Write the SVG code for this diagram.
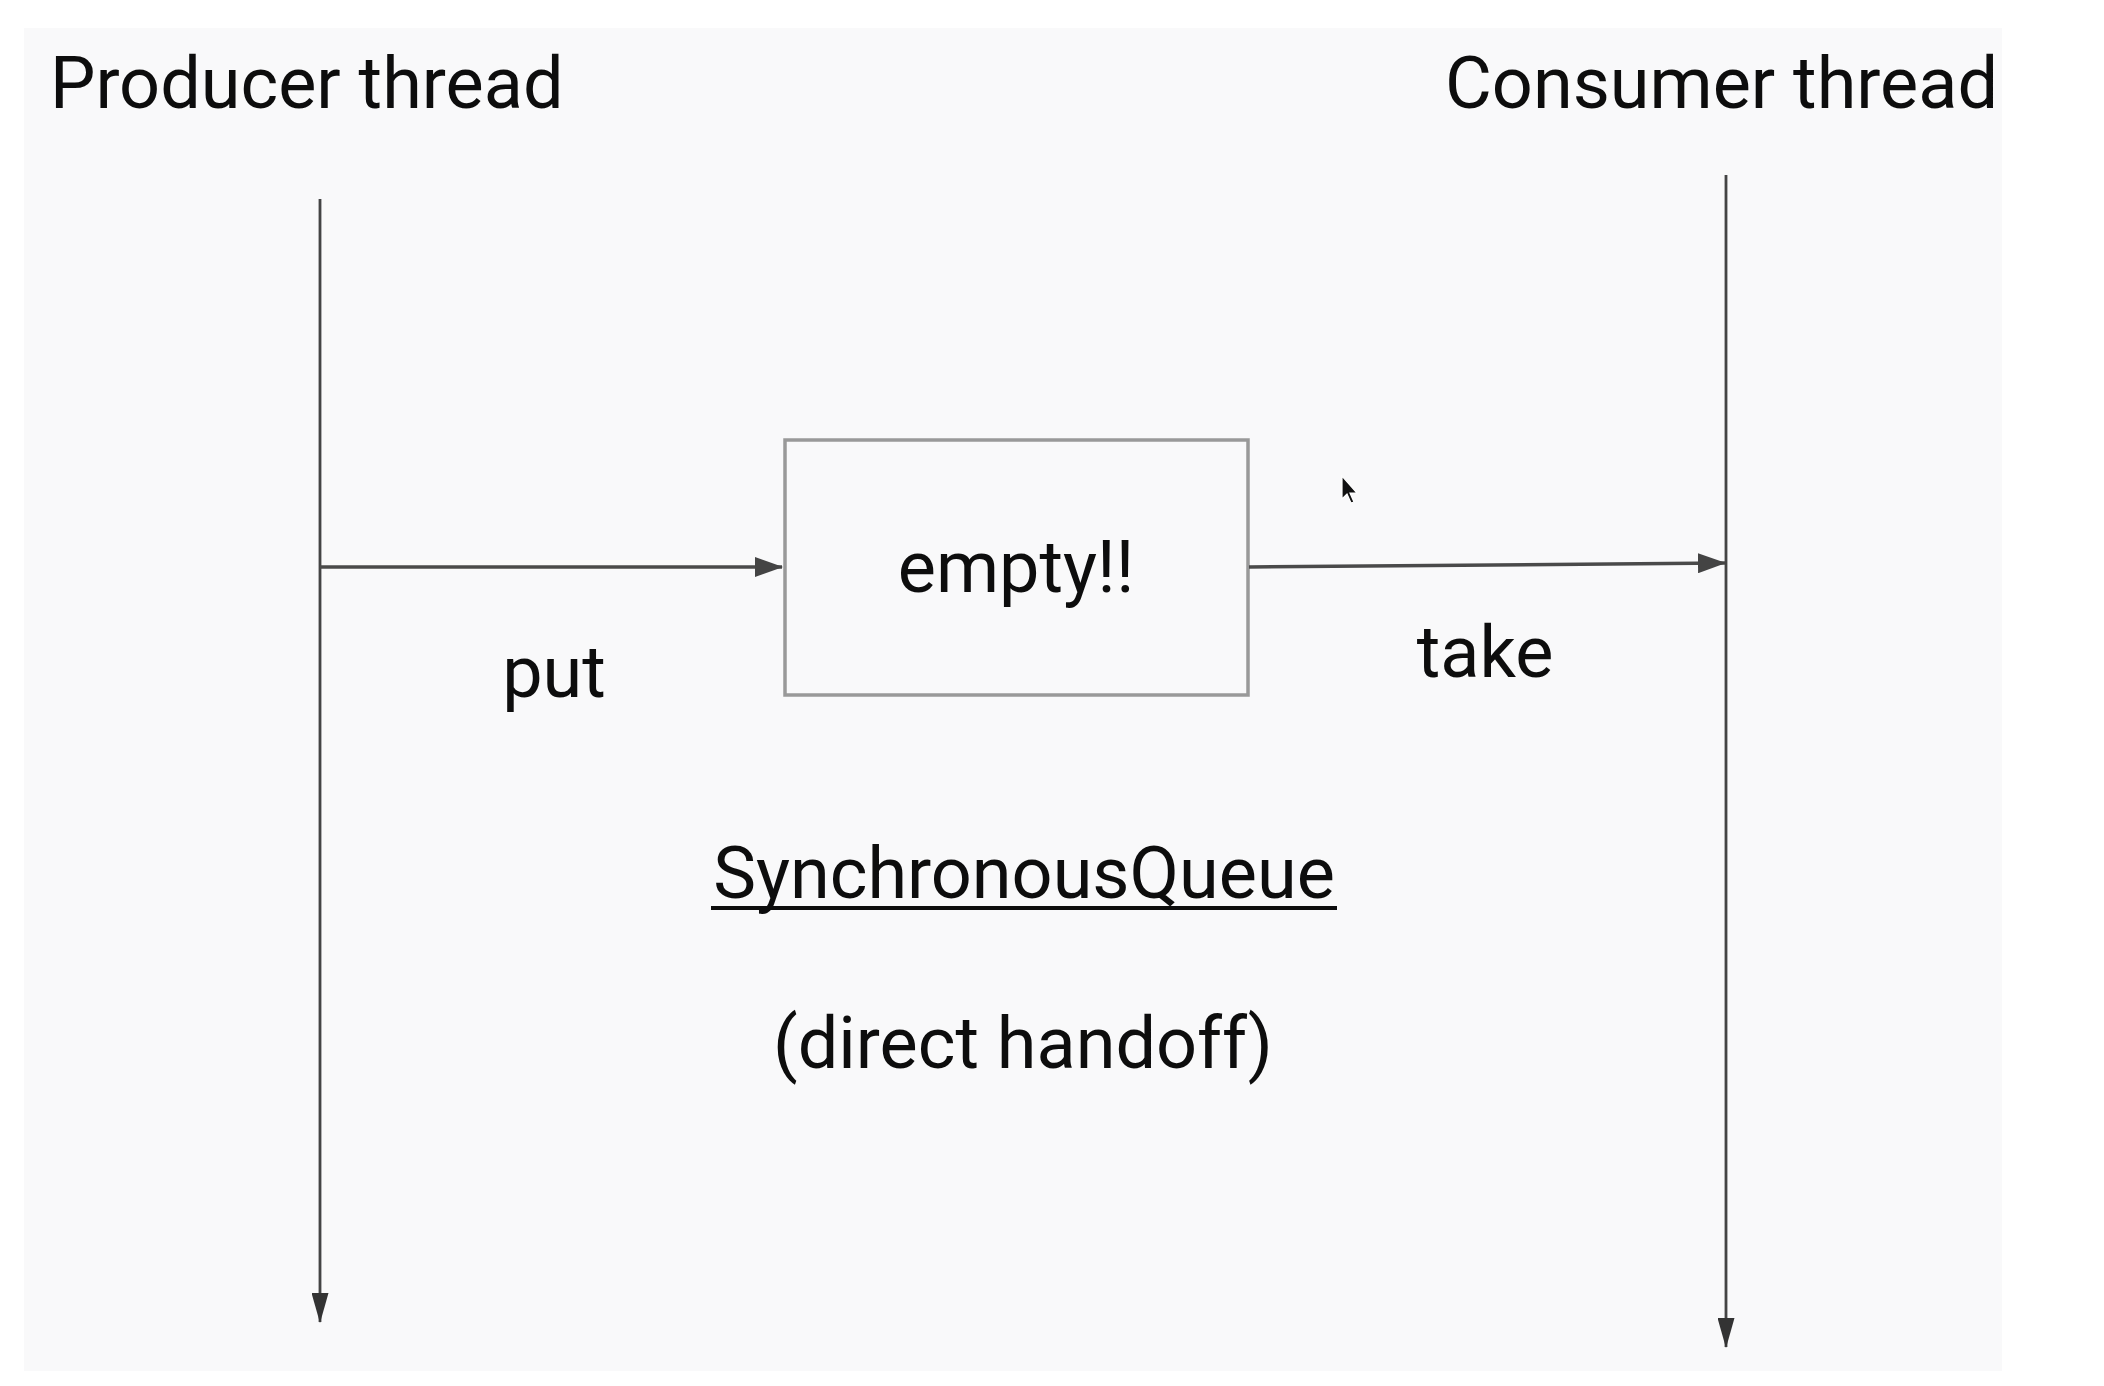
<svg xmlns="http://www.w3.org/2000/svg" width="2104" height="1386" viewBox="0 0 2104 1386">
  <defs>
    <style>
      .t { font-family: Roboto, "Liberation Sans", Arial, sans-serif; font-size: 72px; fill: #0d0d0d; }
      .life { stroke: #444444; stroke-width: 2.8; fill: none; }
      .msg { stroke: #4a4a4a; stroke-width: 3.5; fill: none; }
    </style>
    <marker id="ah" markerUnits="userSpaceOnUse" markerWidth="28" markerHeight="20" viewBox="0 0 28 20" refX="27" refY="10" orient="auto">
      <path d="M0,0 L28,10 L0,20 Z" fill="#444444"/>
    </marker>
    <marker id="ahv" markerUnits="userSpaceOnUse" markerWidth="30" markerHeight="17" viewBox="0 0 30 17" refX="29" refY="8.5" orient="auto">
      <path d="M0,0 L30,8.5 L0,17 Z" fill="#333333"/>
    </marker>
  </defs>
  <rect x="0" y="0" width="2104" height="1386" fill="#ffffff"/>
  <rect x="24" y="28" width="1978" height="1343" fill="#f9f9fa"/>

  <g id="producer">
    <text class="t" x="50" y="108">Producer thread</text>
  </g>
  <g id="consumer">
    <text class="t" x="1445" y="108">Consumer thread</text>
  </g>
  <g id="queue">
    <rect x="785" y="440" width="463" height="255" fill="none" stroke="#999999" stroke-width="3.5"/>
    <text class="t" x="1016" y="592" text-anchor="middle">empty!!</text>
  </g>
  <g id="queue-label">
    <text class="t" x="1024" y="898" text-anchor="middle">SynchronousQueue</text>
    <line x1="711" y1="908" x2="1337" y2="908" stroke="#0d0d0d" stroke-width="4"/>
    <text class="t" x="1023" y="1068" text-anchor="middle">(direct handoff)</text>
  </g>

  <g id="connectors">
    <line class="life" x1="320" y1="199" x2="320" y2="1322" marker-end="url(#ahv)"/>
    <line class="life" x1="1726" y1="175" x2="1726" y2="1347" marker-end="url(#ahv)"/>
    <line class="msg" x1="320" y1="567" x2="782" y2="567" marker-end="url(#ah)"/>
    <line class="msg" x1="1249" y1="567" x2="1725" y2="563" marker-end="url(#ah)"/>
    <text class="t" x="554" y="697" text-anchor="middle">put</text>
    <text class="t" x="1485" y="677" text-anchor="middle">take</text>
  </g>

  <g id="cursor">
    <path d="M1342,476 L1342,499 L1347,494 L1351,503 L1354,502 L1350,493 L1357,493 Z" fill="#111111" stroke="#ffffff" stroke-width="1.2"/>
  </g>
</svg>
